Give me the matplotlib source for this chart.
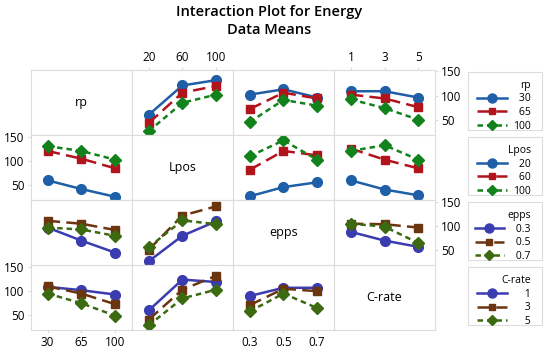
import numpy as np
from matplotlib import pyplot as plt
from matplotlib.lines import Line2D
from matplotlib.patches import Rectangle

# factors and their levels
factors = ["rp", "Lpos", "epps", "C-rate"]
levels = {
    "rp": ["30", "65", "100"],
    "Lpos": ["20", "60", "100"],
    "epps": ["0.3", "0.5", "0.7"],
    "C-rate": ["1", "3", "5"],
}

# means of Energy: trace factor -> x factor -> one row per trace level
rp_means = {
    "Lpos": [[60, 121, 132], [43, 106, 120], [26, 85, 102]],
    "epps": [[102, 113, 96], [72, 106, 94], [45, 91, 79]],
    "C-rate": [[109, 109, 96], [102, 94, 76], [92, 74, 50]],
}
lpos_means = {
    "rp": [[59, 41, 25], [120, 104, 84], [130, 120, 102]],
    "epps": [[26, 45, 55], [81, 120, 111], [109, 142, 102]],
    "C-rate": [[59, 40, 28], [125, 102, 84], [120, 132, 102]],
}
epps_means = {
    "rp": [[96, 69, 44], [110, 104, 91], [96, 92, 79]],
    "Lpos": [[26, 79, 109], [50, 121, 140], [55, 111, 103]],
    "C-rate": [[87, 69, 56], [104, 103, 96], [104, 98, 64]],
}
crate_means = {
    "rp": [[108, 101, 92], [109, 94, 72], [94, 74, 48]],
    "Lpos": [[59, 123, 118], [40, 102, 131], [28, 84, 102]],
    "epps": [[89, 106, 106], [70, 104, 99], [57, 94, 64]],
}
means = {"rp": rp_means, "Lpos": lpos_means, "epps": epps_means, "C-rate": crate_means}

colors_a = ["#1f5fa8", "#b3141c", "#12821c"]
colors_b = ["#3a3cb0", "#6b3510", "#3c6a10"]
trace_colors = {"rp": colors_a, "Lpos": colors_a, "epps": colors_b, "C-rate": colors_b}
styles = ["-", (0, (5, 2.5)), (0, (2.2, 1.6))]
markers = ["o", "s", "D"]
msizes = [7, 5.5, 6]

plt.rcParams['font.family'] = ['Open Sans', 'DejaVu Sans']
grid_col = "#dcdcdc"

W, H = 550, 352
fig, axes = plt.subplots(4, 4, figsize=(W / 100, H / 100), dpi=100)
fig.subplots_adjust(left=0.056, right=0.791, top=0.801, bottom=0.062,
                    wspace=0, hspace=0)
x = np.arange(1, 4)

for i, tr in enumerate(factors):
    for j, xf in enumerate(factors):
        ax = axes[i, j]
        ax.set_xlim(0.5, 3.5)
        ax.set_ylim(18, 153)
        ax.set_xticks(x)
        ax.set_yticks([50, 100, 150])
        for s in ax.spines.values():
            s.set_color(grid_col)
            s.set_linewidth(0.8)
        ax.tick_params(length=2.5, color=grid_col, labelsize=8.5, pad=2,
                       left=False, right=False, bottom=False, top=False,
                       labelleft=False, labelright=False,
                       labelbottom=False, labeltop=False)
        if i == j:
            ax.text(0.5, 0.5, tr, transform=ax.transAxes, ha="center",
                    va="center", fontsize=9)
        else:
            vals = means[tr][xf]
            for k in range(3):
                ax.plot(x, vals[k], color=trace_colors[tr][k], ls=styles[k],
                        lw=1.8, marker=markers[k], ms=msizes[k])
        if j == 0 and i in (1, 3):
            ax.tick_params(left=True, labelleft=True)
        if j == 3 and i in (0, 2):
            ax.tick_params(right=True, labelright=True)
        if i == 3 and j in (0, 2):
            ax.tick_params(bottom=True, labelbottom=True)
            ax.set_xticklabels(levels[xf])
        if i == 0 and j in (1, 3):
            ax.tick_params(top=True, labeltop=True)
            ax.set_xticklabels(levels[xf])

fig.suptitle("Interaction Plot for Energy\nData Means", fontsize=10.5,
             fontweight="semibold", x=0.49, y=0.985, linespacing=1.3)

# one legend per trace factor, to the right of its row
fs = "\u2007"
for i, tr in enumerate(factors):
    handles = [Line2D([], [], color=trace_colors[tr][k], ls=styles[k], lw=1.8,
                      marker=markers[k], ms=msizes[k] - 0.5)
               for k in range(3)]
    labels = [fs * (3 - len(s.replace(".", ""))) + s for s in levels[tr]]
    pos = axes[i, 3].get_position()
    top = pos.y1 - 1.5 / H
    fig.patches.append(Rectangle((468 / W, top - 58 / H), 74 / W, 58 / H,
                                 transform=fig.transFigure, fill=False,
                                 edgecolor=grid_col, lw=0.8))
    fig.legend(handles, labels, title=tr, loc="upper right",
               bbox_to_anchor=(539 / W, top),
               fontsize=7.5, title_fontsize=7.5, alignment="right",
               handlelength=2.8, handletextpad=0.6, labelspacing=0.25,
               borderpad=0.3, frameon=False)

fig.savefig("out.png", dpi=100)
